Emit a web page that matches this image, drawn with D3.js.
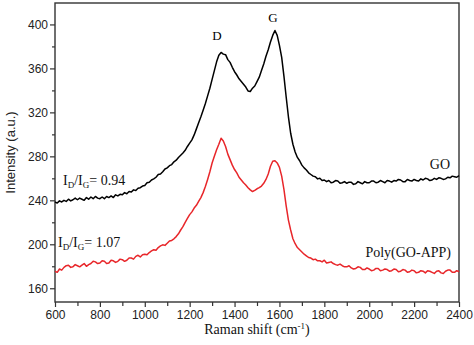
<!DOCTYPE html>
<html><head><meta charset="utf-8">
<script src="https://cdn.jsdelivr.net/npm/d3@7"></script>
<style>
body{margin:0;background:#fff;}
svg{display:block;}
</style></head>
<body>
<svg id="chart" width="474" height="345"></svg>
<script>
const shift = [600,610,620,630,640,650,660,670,680,690,700,710,720,730,740,750,760,770,780,790,
800,810,820,830,840,850,860,870,880,890,900,910,920,930,940,950,960,970,980,990,
1000,1010,1020,1030,1040,1050,1060,1070,1080,1090,1100,1110,1120,1130,1140,1150,1160,1170,1180,1190,
1200,1210,1220,1230,1240,1250,1260,1270,1280,1290,1300,1310,1320,1330,1340,1350,1360,1370,1380,1390,
1400,1410,1420,1430,1440,1450,1460,1470,1480,1490,1500,1510,1520,1530,1540,1550,1560,1570,1580,1590,
1600,1610,1620,1630,1640,1650,1660,1670,1680,1690,1700,1710,1720,1730,1740,1750,1760,1770,1780,1790,
1800,1810,1820,1830,1840,1850,1860,1870,1880,1890,1900,1910,1920,1930,1940,1950,1960,1970,1980,1990,
2000,2010,2020,2030,2040,2050,2060,2070,2080,2090,2100,2110,2120,2130,2140,2150,2160,2170,2180,2190,
2200,2210,2220,2230,2240,2250,2260,2270,2280,2290,2300,2310,2320,2330,2340,2350,2360,2370,2380,2390,2400];

const goValues = [238.5,237.5,239.5,238.5,240,239,241,239.5,240.5,242,
240.5,242,241,240,242.5,241,243,241.5,243.5,242,
241.5,243,241.5,243.5,242.5,244,242.5,245,244,245.5,
245,247,246,248,247.5,249.5,249,251,251.5,253,
253.5,256,256.5,258.5,259.5,261,263.5,264,266,268.5,
269.5,271.5,272.5,275,276.5,279,281,283,285.5,289,
292,295,299.5,305,310.5,316,322,328,335,342,
350,358,366,372,374.5,373,372.5,368,365.5,361,
357,354,350.5,348,345.5,343,339.5,339,342,344,
348,352,358,364,371,377,384,390,394.5,390,
381,370,353,334,316,301,291,284,279,276,
272,269.5,267.5,265,263.5,262,261.5,259.5,260,258,
258.5,257,258,256,256.5,258,257.5,255.5,256,257,
255.5,256.5,256.5,254.5,255,257,256,255,257,256,
256,257.5,257.5,256,256.5,258,257,256,258,257.5,
256.5,258,257.5,259,258.5,257,257,259,258,257.5,
259,258,257.5,259.5,258.5,260,259.5,258,258.5,260,
259,260.5,260,259,259.5,261,260.5,262,261.5,261,262.5];

const polyValues = [175.5,174.5,177.5,176.5,179,180.5,181,179,179.5,181.5,
180.5,179.5,181,182.5,180,181.5,182.5,184.5,184,182.5,
183,185,184.5,182.5,183,185.5,185,183.5,184.5,186.5,
186,184.5,185.5,187.5,187.5,186.5,189,190,188.5,190.5,
191,190.5,192.5,194,195,194.5,197,198.5,199.5,199,
201,203,203.5,205,207,209.5,213,216,220,223.5,
227,229.5,233,235.5,239,242.5,247,252.5,259,266,
274,280,286,291,296.5,294,289,282,277,272,
268,265,261,258.5,256,254,251.5,249.5,248,249,
250.5,251.5,253,255.5,259,264,271,275.5,276,274,
270,262,250,235,222,213,205,200.5,197,195,
193,191,189.5,188,187.5,186,186.5,185,185,184,
185.5,183,183.5,184,182.5,181.5,181,182,180.5,179.5,
179.5,180.5,178.5,177.5,178,179.5,179,177,177,178.5,
177.5,176,176.5,178,178,176,176.5,177.5,177,175.5,
176,177.5,177,175,175.5,177,176.5,174.5,175,176.5,
176,174,174.5,176,175.5,174,176,175.5,174.5,173.5,
175.5,176,174,173.5,175.5,176.5,176.5,174.5,174.5,176,175];

const xTicks = [600,800,1000,1200,1400,1600,1800,2000,2200,2400];
const xMinor = [700,900,1100,1300,1500,1700,1900,2100,2300];
const yTicks = [160,200,240,280,320,360,400];
const yMinor = [180,220,260,300,340,380];

const svg = d3.select("#chart");
const L = 55, R = 459, T = 3, B = 302;
const x = d3.scaleLinear().domain([600,2400]).range([L,R]);
const y = d3.scaleLinear().domain([147.5,419.5]).range([B,T]);

// frame
svg.append("rect").attr("x",L).attr("y",T).attr("width",R-L).attr("height",B-T)
  .attr("fill","none").attr("stroke","#333").attr("stroke-width",1.4);

// axes
const xAxis = svg.append("g").attr("transform",`translate(0,${B})`)
  .call(d3.axisBottom(x).tickValues(xTicks).tickSize(5).tickFormat(d3.format("d")));
const xAxisMinor = svg.append("g").attr("transform",`translate(0,${B})`)
  .call(d3.axisBottom(x).tickValues(xMinor).tickSize(4).tickFormat(""));
const yAxis = svg.append("g").attr("transform",`translate(${L},0)`)
  .call(d3.axisLeft(y).tickValues(yTicks).tickSize(5).tickFormat(d3.format("d")));
const yAxisMinor = svg.append("g").attr("transform",`translate(${L},0)`)
  .call(d3.axisLeft(y).tickValues(yMinor).tickSize(3).tickFormat(""));
[xAxis,xAxisMinor,yAxis,yAxisMinor].forEach(g=>{
  g.select(".domain").remove();
  g.selectAll("line").attr("stroke","#333").attr("stroke-width",1.2);
  g.selectAll("text").attr("font-family","Liberation Sans, Arial, sans-serif")
    .attr("font-size",12).attr("fill","#222");
});
xAxis.selectAll("text").attr("dy","0.71em").attr("y",8);
yAxis.selectAll("text").attr("x",-7);

// lines
const line = d3.line().x((d,i)=>x(shift[i])).y(d=>y(d));
svg.append("path").datum(goValues).attr("d",line)
  .attr("fill","none").attr("stroke","#000").attr("stroke-width",1.5).attr("stroke-linejoin","round");
svg.append("path").datum(polyValues).attr("d",line)
  .attr("fill","none").attr("stroke","#e8262a").attr("stroke-width",1.5).attr("stroke-linejoin","round");

// axis labels
svg.append("text").attr("transform",`translate(15,${(T+B)/2}) rotate(-90)`)
  .attr("text-anchor","middle").attr("font-family","Liberation Sans, Arial, sans-serif")
  .attr("font-size",13).attr("fill","#222").text("Intensity (a.u.)");
const xl = svg.append("text").attr("x",257).attr("y",334).attr("text-anchor","middle")
  .attr("font-family","Liberation Serif, Times New Roman, serif").attr("font-size",14).attr("fill","#111");
xl.append("tspan").text("Raman shift (cm");
xl.append("tspan").attr("dy",-5).attr("font-size",9).text("-1");
xl.append("tspan").attr("dy",5).text(")");

// annotations
const serif = "Liberation Serif, Times New Roman, serif";
svg.append("text").attr("x",217).attr("y",40).attr("text-anchor","middle")
  .attr("font-family",serif).attr("font-size",13).text("D");
svg.append("text").attr("x",273).attr("y",22).attr("text-anchor","middle")
  .attr("font-family",serif).attr("font-size",13).text("G");

function ratio(xp, yp, val){
  const t = svg.append("text").attr("x",xp).attr("y",yp)
    .attr("font-family",serif).attr("font-size",14).attr("fill","#111");
  t.append("tspan").text("I");
  t.append("tspan").attr("dy",3).attr("font-size",9).text("D");
  t.append("tspan").attr("dy",-3).text("/I");
  t.append("tspan").attr("dy",3).attr("font-size",9).text("G");
  t.append("tspan").attr("dy",-3).text("= " + val);
}
ratio(63,185,"0.94");
ratio(58,247,"1.07");

svg.append("text").attr("x",450).attr("y",169).attr("text-anchor","end")
  .attr("font-family",serif).attr("font-size",14).attr("fill","#111").text("GO");
svg.append("text").attr("x",451).attr("y",257).attr("text-anchor","end")
  .attr("font-family",serif).attr("font-size",14).attr("fill","#111").text("Poly(GO-APP)");
</script>
</body></html>
